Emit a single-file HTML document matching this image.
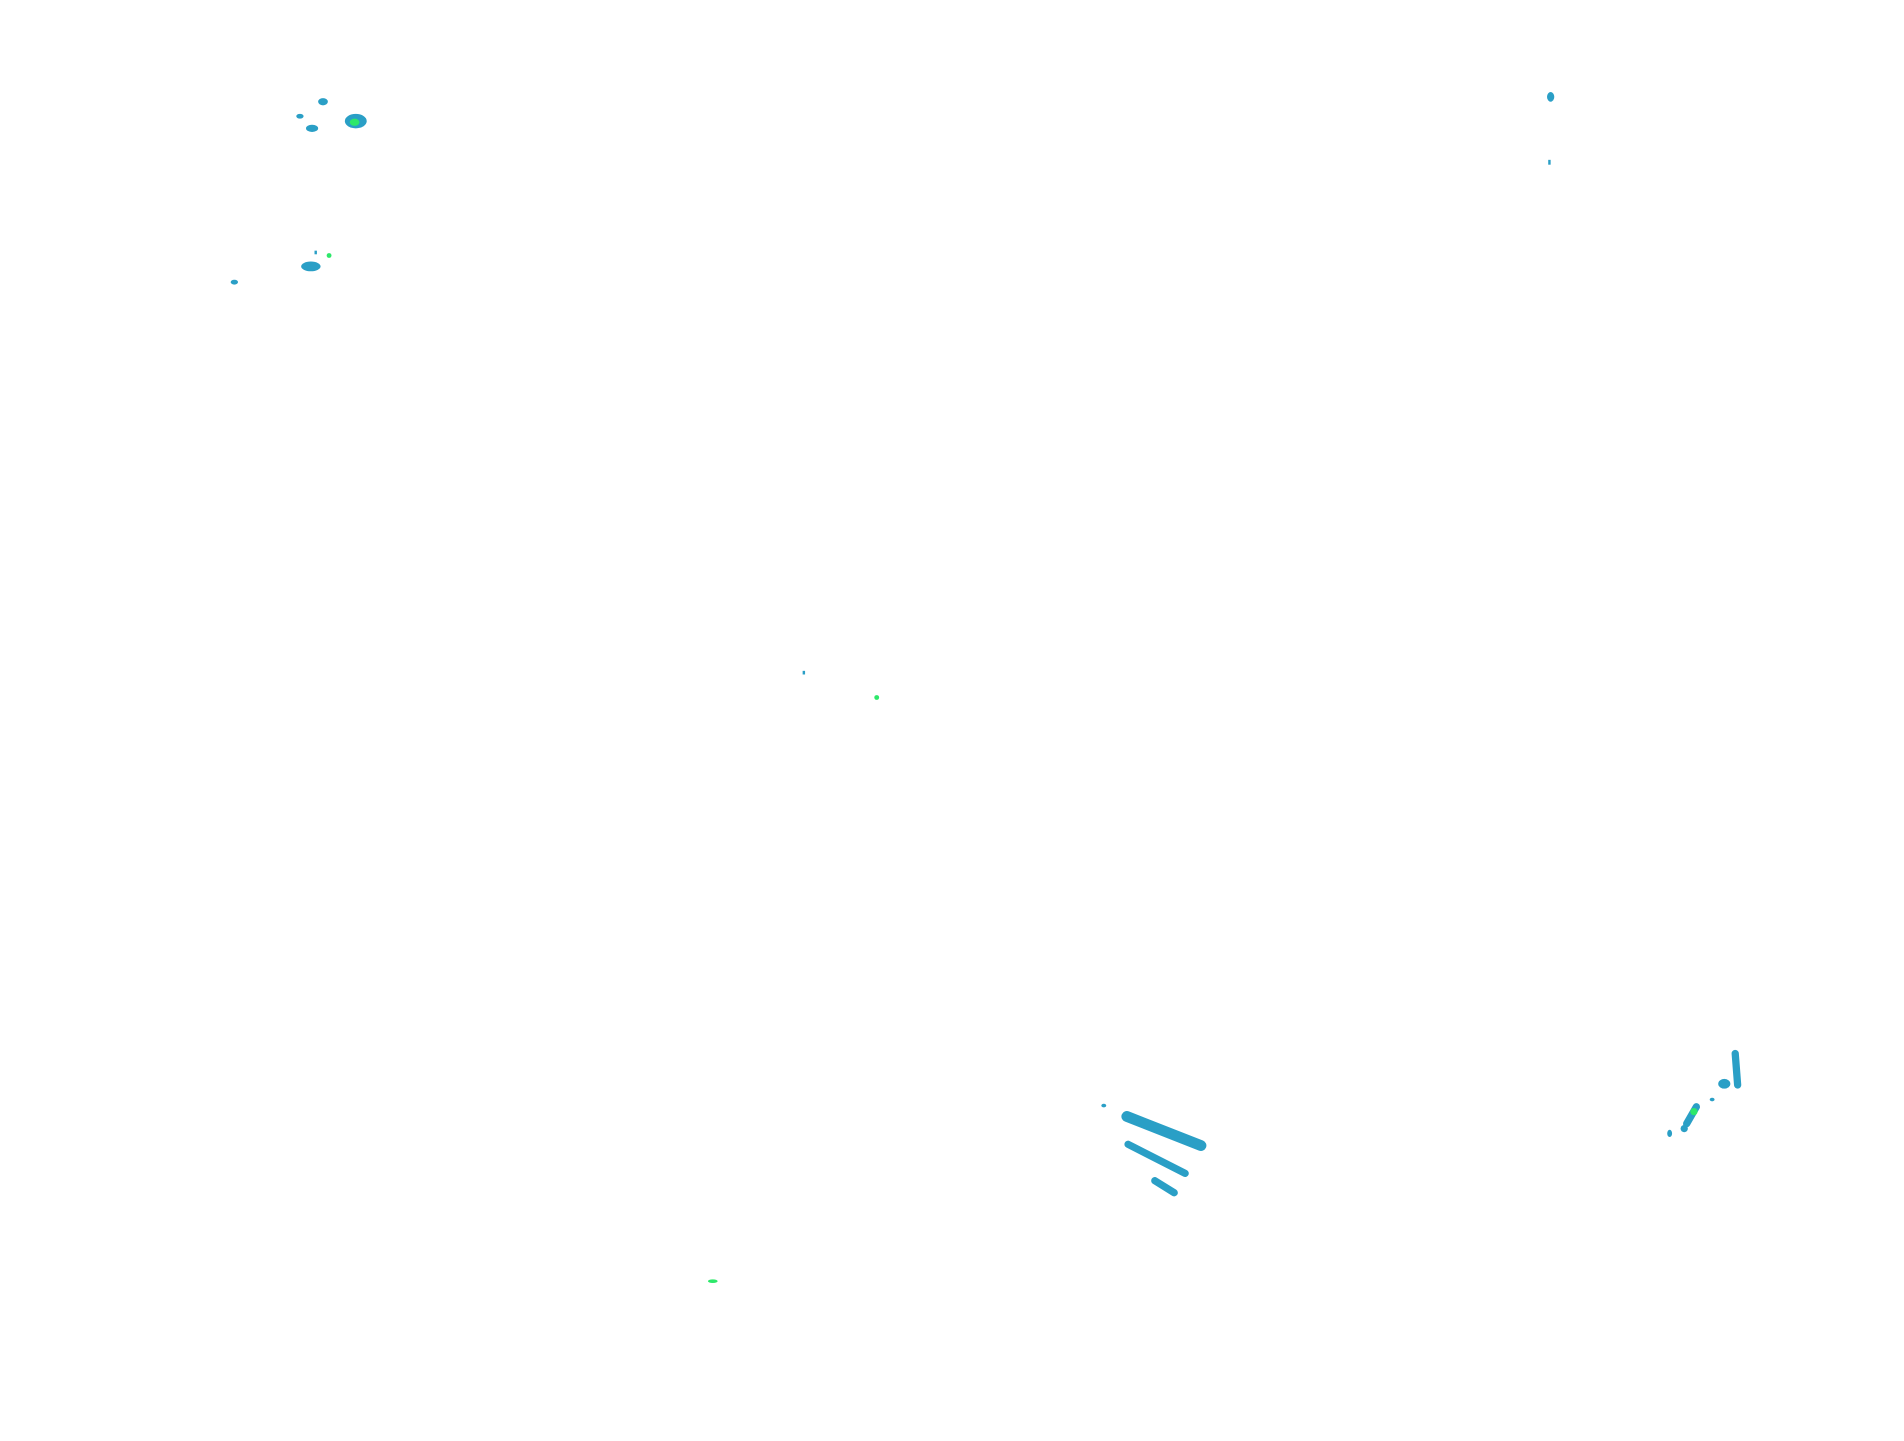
<!DOCTYPE html>
<html><head><meta charset="utf-8"><style>
html,body{margin:0;padding:0;background:#fff;width:1904px;height:1441px;overflow:hidden}
svg{display:block}
</style></head><body>
<svg width="1904" height="1441" viewBox="0 0 1568 1190" preserveAspectRatio="none">
<g fill="#2a9fc6">
<ellipse cx="293" cy="100" rx="9" ry="6"/>
<ellipse cx="266" cy="84" rx="4" ry="3"/>
<ellipse cx="257" cy="106" rx="5" ry="3"/>
<ellipse cx="247" cy="96" rx="3" ry="2"/>
<ellipse cx="256" cy="220" rx="8" ry="4"/>
<ellipse cx="193" cy="233" rx="3" ry="2"/>
<rect x="259" y="207" width="2" height="3"/>
<ellipse cx="1277" cy="80" rx="3" ry="4"/>
<rect x="1275" y="132" width="2" height="4"/>
<rect x="661" y="554" width="2" height="3"/>
<ellipse cx="909" cy="913" rx="2" ry="1.5"/>
<ellipse cx="1420" cy="895" rx="5" ry="4"/>
<ellipse cx="1387" cy="932" rx="3" ry="3"/>
<ellipse cx="1375" cy="936" rx="2" ry="3"/>
<ellipse cx="1410" cy="908" rx="2" ry="1.5"/>
</g>
<g stroke="#2a9fc6" stroke-linecap="round" fill="none">
<line x1="928" y1="922" x2="989" y2="946" stroke-width="9"/>
<line x1="929" y1="945" x2="976" y2="969" stroke-width="6"/>
<line x1="951" y1="975" x2="967" y2="985" stroke-width="6"/>
<line x1="1429" y1="870" x2="1431" y2="896" stroke-width="6"/>
<line x1="1397" y1="914" x2="1389" y2="928" stroke-width="6"/>
</g>
<g fill="#2de86a">
<ellipse cx="292" cy="101" rx="4" ry="3"/>
<ellipse cx="271" cy="211" rx="2" ry="2"/>
<ellipse cx="722" cy="576" rx="2" ry="2"/>
<ellipse cx="1395" cy="918" rx="3" ry="3"/>
<ellipse cx="587" cy="1058" rx="4" ry="1.5"/>
</g>
</svg>
</body></html>
